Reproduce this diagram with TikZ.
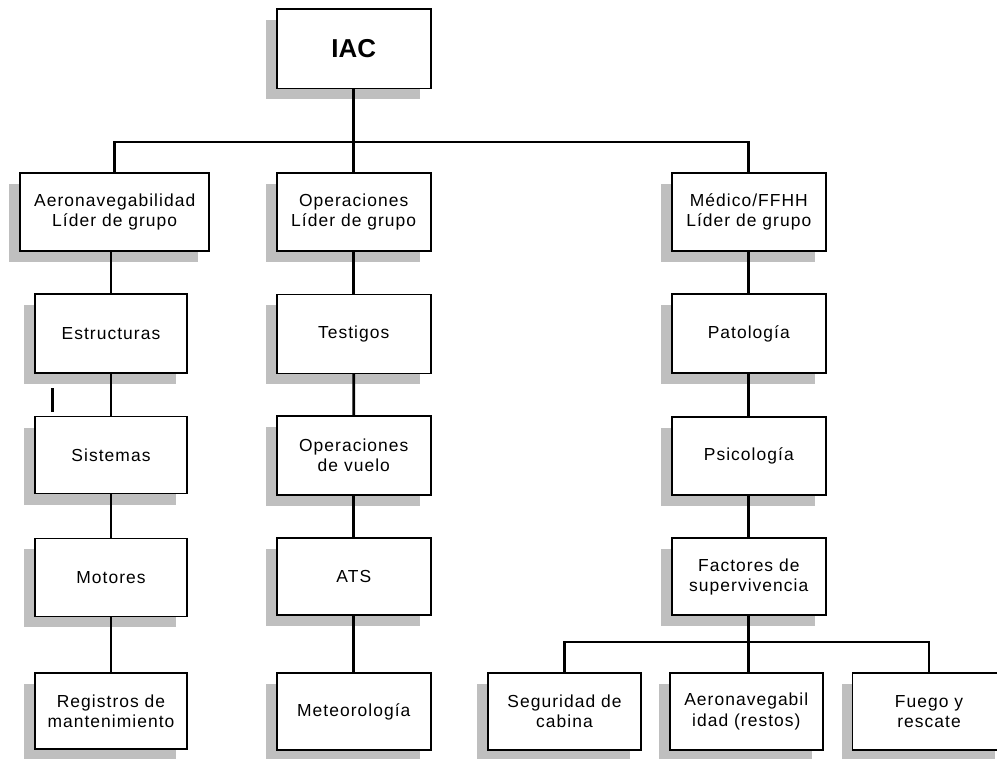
\documentclass[tikz,border=0pt]{standalone}
\usepackage{fontspec}
\setmainfont{Liberation Sans}
\newfontfamily\boxfont{Liberation Sans}[LetterSpace=6]
\usetikzlibrary{shadows}
\begin{document}
\begin{tikzpicture}[x=1bp,y=-1bp,
  box/.style={draw=black, line width=1.6bp, fill=white, inner sep=0pt,
    minimum width=154bp, minimum height=78bp, align=center,
    font=\boxfont\fontsize{17.5}{20.5}\selectfont,
    general shadow={fill=black!25, shadow xshift=-11bp, shadow yshift=-11bp}},
  conn/.style={draw=black, line width=2.8bp}]
\useasboundingbox (0,0) rectangle (997,759);
\fill[white] (0,0) rectangle (997,759);
\begin{scope}
\clip (0,0) rectangle (997,759);
% top
\node[box, minimum height=79bp, font=\fontsize{26}{30}\selectfont\bfseries] (iac) at (353.7,48.8) {IAC};
% column A
\node[box, minimum width=189bp] (aer) at (114.7,212) {Aeronavegabilidad\\Líder de grupo};
\node[box, minimum width=152bp, minimum height=79bp] (est) at (111,333.5) {Estructuras};
\node[box, minimum width=152bp, minimum height=77bp] (sis) at (111,455) {Sistemas};
\node[box, minimum width=152bp] (mot) at (111,577.3) {Motores};
\node[box, minimum width=152bp, minimum height=76bp] (reg) at (111,711) {Registros de\\mantenimiento};
% column B
\node[box] (ops) at (353.7,212) {Operaciones\\Líder de grupo};
\node[box, minimum height=79bp] (tes) at (353.7,333.8) {Testigos};
\node[box, minimum height=79bp] (opv) at (353.8,455.5) {Operaciones\\de vuelo};
\node[box, minimum height=77bp] (ats) at (353.8,576.7) {ATS};
\node[box, minimum height=77bp] (met) at (353.8,711.5) {Meteorología};
% column C
\node[box] (med) at (748.8,211.7) {Médico/FFHH\\Líder de grupo};
\node[box, minimum height=79bp] (pat) at (748.8,333.5) {Patología};
\node[box] (psi) at (748.8,455.8) {Psicología};
\node[box, minimum height=77bp] (fac) at (748.8,576.7) {Factores de\\supervivencia};
% bottom row
\node[box, minimum width=153bp, minimum height=77bp] (seg) at (564.5,711.5) {Seguridad de\\cabina};
\node[box, minimum width=153bp, minimum height=77bp] (aen) at (746.3,711.5) {Aeronavegabil\\idad (restos)};
\node[box, minimum width=153bp, minimum height=77bp] (fue) at (929,711.5) {Fuego y\\rescate};
\end{scope}
% connectors
\coordinate (bus) at (0,142);
\coordinate (bustwo) at (0,642);
\draw[conn] (aer.north) |- (bus -| iac.south) -| (med.north);
\draw[conn] (iac.south) -- (iac.south |- ops.north);
\draw[conn] (est.north |- aer.south) -- (est.north);
\draw[conn] (est.south) -- (sis.north);
\draw[conn] (sis.south) -- (mot.north);
\draw[conn] (mot.south) -- (reg.north);
\draw[conn] (ops.south) -- (tes.north);
\draw[conn] (tes.south) -- (opv.north);
\draw[conn] (opv.south) -- (ats.north);
\draw[conn] (ats.south) -- (met.north);
\draw[conn] (med.south) -- (pat.north);
\draw[conn] (pat.south) -- (psi.north);
\draw[conn] (psi.south) -- (fac.north);
\draw[conn] (seg.north) |- (bustwo -| fac.south) -| (fue.north);
\draw[conn] (fac.south) -- (fac.south |- aen.north);
% stray mark
\coordinate (marktop) at (52.5,388);
\coordinate (markbot) at (52.5,412);
\draw[line width=3bp] (marktop) -- (markbot);
\end{tikzpicture}
\end{document}
